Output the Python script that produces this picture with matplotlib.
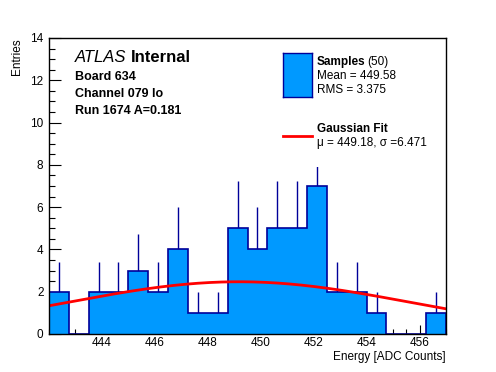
import numpy as np
import matplotlib
matplotlib.use("Agg")
import matplotlib.pyplot as plt
import matplotlib.patches as mpatches
from matplotlib.ticker import MultipleLocator

plt.rcParams["font.family"] = ["Liberation Sans", "DejaVu Sans"]

# ── Data ────────────────────────────────────────────────────────────────────
bin_edges = [442.0, 442.75, 443.5, 444.25, 445.0, 445.75, 446.5, 447.25, 448.0,
             448.75, 449.5, 450.25, 451.0, 451.75, 452.5, 453.25, 454.0, 454.75,
             455.5, 456.25, 457.0]
counts = [2, 0, 2, 2, 3, 2, 4, 1, 1, 5, 4, 5, 5, 7, 2, 2, 1, 0, 0, 1]
x_ticks = [444, 446, 448, 450, 452, 454, 456]

n_samples = 50
mean_val = 449.58
rms_val = 3.375
fit_mu = 449.18
fit_sigma = 6.471
fit_amp = 2.47

_FILL = "#0099ff"
_EDGE = "#000099"
_RED = "#ff0000"
W, H = 496, 372


def fx(px):
    return px / W


def fy(py):
    return 1 - py / H


edges = np.array(bin_edges)
cnts = np.array(counts, dtype=float)
centers = 0.5 * (edges[:-1] + edges[1:])

fig = plt.figure(figsize=(4.96, 3.72), dpi=100)
ax = fig.add_axes([0.0988, 0.1022, 0.8004, 0.7957])

# error bars sit behind the fill so only the upper half shows
ax.errorbar(centers, cnts, yerr=np.sqrt(cnts), fmt="none",
            ecolor=_EDGE, elinewidth=1.0, zorder=1)
ax.stairs(cnts, edges, fill=True, color=_FILL, zorder=2)
ax.stairs(cnts, edges, baseline=0, color=_EDGE, lw=1.2, zorder=3)

xf = np.linspace(edges[0], edges[-1], 300)
yf = fit_amp * np.exp(-0.5 * ((xf - fit_mu) / fit_sigma) ** 2)
ax.plot(xf, yf, color=_RED, lw=2.0, zorder=4)

ax.set_xlim(442, 457)
ax.set_ylim(0, 14)
ax.set_xticks(x_ticks)
ax.xaxis.set_minor_locator(MultipleLocator(0.5))
ax.yaxis.set_major_locator(MultipleLocator(2))
ax.yaxis.set_minor_locator(MultipleLocator(0.5))
ax.tick_params(axis="both", which="both", direction="in", top=False, right=False,
               labelsize=8.5, width=0.8)
ax.tick_params(axis="x", which="major", length=6.5, pad=2.5)
ax.tick_params(axis="x", which="minor", length=3.5)
ax.tick_params(axis="y", which="major", length=8.5, pad=4)
ax.tick_params(axis="y", which="minor", length=4.5)
for s in ax.spines.values():
    s.set_linewidth(1.0)
    s.set_zorder(6)

fig.text(fx(446), fy(357), "Energy [ADC Counts]", ha="right", va="center", fontsize=8.5)
fig.text(0.022, 0.898, "Entries", ha="left", va="top", rotation=90, fontsize=8.5)

renderer = fig.canvas.get_renderer()

# ── Labels ──────────────────────────────────────────────────────────────────
t_atlas = fig.text(fx(75), fy(57), "ATLAS", style="italic", fontsize=12,
                   va="center", ha="left")
bb = t_atlas.get_window_extent(renderer)
fig.text(bb.x1 / W + fx(4), fy(57), "Internal", fontweight="bold", fontsize=12,
         va="center", ha="left")
fig.text(fx(75), fy(77), "Board 634", fontweight="bold", fontsize=9, va="center")
fig.text(fx(75), fy(94), "Channel 079 lo", fontweight="bold", fontsize=9, va="center")
fig.text(fx(75), fy(111), "Run 1674 A=0.181", fontweight="bold", fontsize=9, va="center")

# ── Legend ──────────────────────────────────────────────────────────────────
# white legend pad covers the top of the tallest error bar, like in ROOT
fig.add_artist(mpatches.Rectangle((fx(272), fy(167)), fx(172), fy(40) - fy(167),
                                  transform=fig.transFigure, facecolor="white",
                                  edgecolor="none", zorder=5))

box = fig.add_axes([fx(283), fy(97), fx(29), fy(53) - fy(97)])
box.set_zorder(8)
box.set_facecolor(_FILL)
box.set_xticks([])
box.set_yticks([])
for s in box.spines.values():
    s.set_color(_EDGE)
    s.set_linewidth(1.0)

t_s = fig.text(fx(317), fy(62), "Samples", fontweight="bold", fontsize=8.5,
               va="center", zorder=7)
bb = t_s.get_window_extent(renderer)
fig.text(bb.x1 / W + fx(2), fy(62), f"({n_samples})", fontsize=8.5, va="center", zorder=7)
fig.text(fx(317), fy(76), f"Mean = {mean_val:.2f}", fontsize=8.5, va="center", zorder=7)
fig.text(fx(317), fy(90), f"RMS = {rms_val:.3f}", fontsize=8.5, va="center", zorder=7)

fig.add_artist(plt.Line2D([fx(283), fx(312)], [fy(136), fy(136)],
                          color=_RED, lw=2.0, zorder=7))
fig.text(fx(317), fy(129), "Gaussian Fit", fontweight="bold", fontsize=8.5,
         va="center", zorder=7)
fig.text(fx(317), fy(143), f"\u03bc = {fit_mu:.2f}, \u03c3 ={fit_sigma:.3f}",
         fontsize=8.5, va="center", zorder=7)

fig.savefig("out.png", dpi=100, facecolor="white")
